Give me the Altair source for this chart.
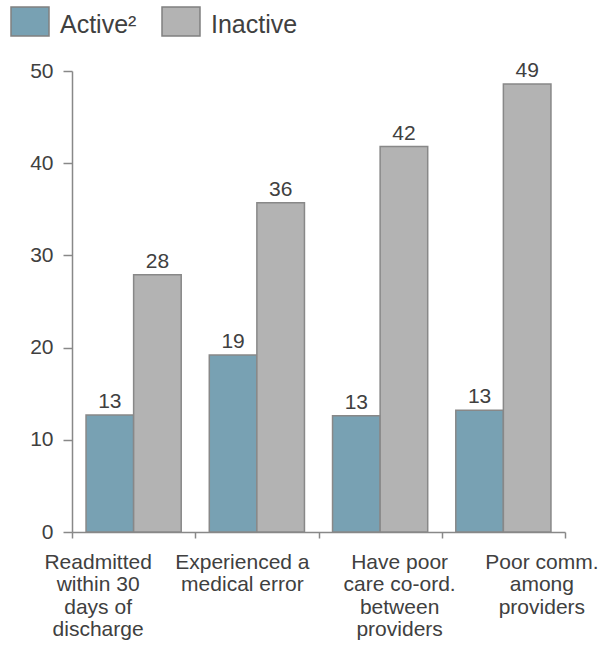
import altair as alt
import pandas as pd

categories = [
    "Readmitted|within 30|days of|discharge",
    "Experienced a|medical error",
    "Have poor|care co-ord.|between|providers",
    "Poor comm.|among|providers",
]
label_shifts = [-36, -15, 19, 38]
series = ["Active²", "Inactive"]
active_values = [12.7, 19.2, 12.6, 13.2]
inactive_values = [27.9, 35.7, 41.8, 48.6]
y_ticks = [0, 10, 20, 30, 40, 50]
colors = ["#78a1b3", "#b3b3b3"]

rows = []
for c, a, i in zip(categories, active_values, inactive_values):
    rows.append({"category": c, "series": series[0], "value": a})
    rows.append({"category": c, "series": series[1], "value": i})
df = pd.DataFrame(rows)

FONT = "Liberation Sans"
TXT = "#404040"

offset_cond = {
    "condition": [
        {"test": f"datum.value == '{c}'", "value": s}
        for c, s in zip(categories, label_shifts)
    ],
    "value": 0,
}

x = alt.X(
    "category:N",
    sort=categories,
    scale=alt.Scale(paddingInner=0, paddingOuter=0),
    axis=alt.Axis(
        title=None,
        labelExpr="split(datum.label, '|')",
        tickBand="extent",
        labelAngle=0,
        labelFontSize=21,
        labelLineHeight=22.5,
        labelPadding=13,
        tickSize=6,
        labelBaseline="top",
        labelOffset=offset_cond,
    ),
)
xoff = alt.XOffset(
    "series:N",
    sort=series,
    scale=alt.Scale(paddingOuter=0.295, paddingInner=0),
)
y = alt.Y(
    "value:Q",
    scale=alt.Scale(domain=[0, 50], nice=False),
    axis=alt.Axis(
        title=None,
        values=y_ticks,
        labelFontSize=21,
        tickSize=9,
        labelPadding=10,
        grid=False,
    ),
)
color = alt.Color(
    "series:N",
    sort=series,
    scale=alt.Scale(domain=series, range=colors),
    legend=alt.Legend(
        title=None,
        orient="none",
        legendX=-62,
        legendY=-66,
        direction="horizontal",
        symbolType="M-1,-0.95H1V0.57H-1Z",
        symbolSize=1444,
        symbolStrokeColor="#808080",
        symbolStrokeWidth=1.5,
        symbolOpacity=1,
        labelFontSize=25,
        labelColor=TXT,
        labelFont=FONT,
        labelOffset=10,
        columnPadding=22,
    ),
)

base = alt.Chart(df).encode(x=x, xOffset=xoff, y=y)
bars = base.mark_bar(stroke="#888888", strokeWidth=1.5, opacity=1).encode(color=color)
labels = base.mark_text(
    baseline="alphabetic", dy=-7, fontSize=21, color=TXT, font=FONT
).encode(text=alt.Text("value:Q", format=".0f"))

chart = (
    alt.layer(bars, labels)
    .properties(
        width=493,
        height=461,
        autosize=alt.AutoSizeParams(type="none"),
        padding={"left": 72, "top": 71, "right": 37, "bottom": 116},
    )
    .configure_view(stroke=None)
    .configure_axis(
        domainColor="#888888",
        tickColor="#888888",
        labelColor=TXT,
        labelFont=FONT,
        domainWidth=1.5,
        tickWidth=1.5,
    )
)

chart.save("out.html", embed_options={"renderer": "svg", "actions": False})
